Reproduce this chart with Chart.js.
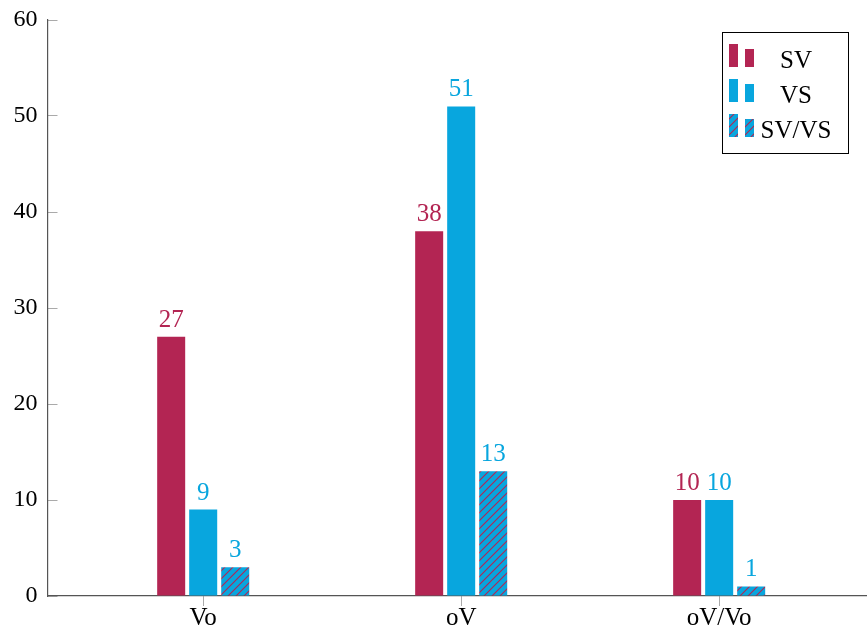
<!DOCTYPE html>
<html>
<head>
<meta charset="utf-8">
<script src="https://cdn.jsdelivr.net/npm/chart.js@4.4.1/dist/chart.umd.min.js"></script>
<style>
html, body { margin: 0; padding: 0; background: #fff; }
#wrap { width: 867px; height: 638px; }
</style>
</head>
<body>
<div id="wrap"><canvas id="barChart"></canvas></div>
<script>
const categories = ['Vo', 'oV', 'oV/Vo']
const seriesNames = ['SV', 'VS', 'SV/VS']
const svValues = [27, 38, 10]
const vsValues = [9, 51, 10]
const bothValues = [3, 13, 1]
const yTicks = [0, 10, 20, 30, 40, 50, 60]

const crimson = '#b32553'
const blue = '#08a6de'
const serif = "'Liberation Serif', serif"

// Hatch: blue fill with crimson north east lines
function makeHatch() {
    const c = document.createElement('canvas')
    c.width = 8
    c.height = 8
    const g = c.getContext('2d')
    g.fillStyle = blue
    g.fillRect(0, 0, 8, 8)
    g.strokeStyle = crimson
    g.lineWidth = 1.1
    g.beginPath()
    g.moveTo(-1, 9); g.lineTo(9, -1)
    g.moveTo(-1, 1); g.lineTo(1, -1)
    g.moveTo(7, 9); g.lineTo(9, 7)
    g.stroke()
    return g.createPattern(c, 'repeat')
}
const hatch = makeHatch()

const toPoints = vals => vals.map((v, i) => ({ x: i, y: v }))

const valueLabels = {
    id: 'valueLabels',
    afterDatasetsDraw(chart) {
        const ctx = chart.ctx
        ctx.save()
        ctx.font = '25px ' + serif
        ctx.textAlign = 'center'
        ctx.textBaseline = 'alphabetic'
        chart.data.datasets.forEach((ds, di) => {
            ctx.fillStyle = ds.labelColor
            chart.getDatasetMeta(di).data.forEach((bar, i) => {
                ctx.fillText(ds.data[i].y, bar.x, bar.y - 10)
            })
        })
        ctx.restore()
    }
}

const boxLegend = {
    id: 'boxLegend',
    afterDraw(chart) {
        const ctx = chart.ctx
        const left = 722.5, top = 32.5, w = 126, h = 121
        ctx.save()
        ctx.fillStyle = '#fff'
        ctx.fillRect(left, top, w, h)
        ctx.strokeStyle = '#000'
        ctx.lineWidth = 1
        ctx.strokeRect(left, top, w, h)
        ctx.font = '25px ' + serif
        ctx.textAlign = 'center'
        ctx.textBaseline = 'alphabetic'
        chart.data.datasets.forEach((ds, i) => {
            const y0 = 44 + i * 35
            ctx.fillStyle = ds.backgroundColor
            ctx.fillRect(729, y0, 9, 23)
            ctx.fillRect(745, y0 + 5, 9, 18)
            ctx.fillStyle = '#000'
            ctx.fillText(ds.label, 796, y0 + 24)
        })
        ctx.restore()
    }
}

const data = {
    datasets: [
        { label: seriesNames[0], data: toPoints(svValues), backgroundColor: crimson, labelColor: crimson },
        { label: seriesNames[1], data: toPoints(vsValues), backgroundColor: blue, labelColor: blue },
        { label: seriesNames[2], data: toPoints(bothValues), backgroundColor: hatch, labelColor: blue },
    ],
}

const config = {
    type: 'bar',
    data: data,
    options: {
        responsive: true,
        maintainAspectRatio: false,
        animation: false,
        layout: { padding: { top: 20, right: 0, left: 0, bottom: 0 } },
        categoryPercentage: 0.3723,
        barPercentage: 0.875,
        plugins: { legend: { display: false }, tooltip: { enabled: false } },
        scales: {
            x: {
                type: 'linear',
                offset: false,
                min: -0.6035,
                max: 2.573,
                afterBuildTicks: s => { s.ticks = categories.map((c, i) => ({ value: i })) },
                afterFit: s => { s.height = 42; s.paddingLeft = 0; s.paddingRight = 0 },
                grid: { offset: false, drawOnChartArea: false, tickLength: 10, color: '#aaa' },
                border: { color: '#555', width: 1.2 },
                ticks: {
                    callback: v => categories[v],
                    color: '#000',
                    padding: -3,
                    font: { family: serif, size: 25 },
                    maxRotation: 0,
                },
            },
            y: {
                min: 0,
                max: 60,
                afterBuildTicks: s => { s.ticks = yTicks.map(v => ({ value: v })) },
                afterFit: s => { s.width = 47.5; s.paddingTop = 0; s.paddingBottom = 0 },
                grid: { drawOnChartArea: false, tickLength: -10, color: '#aaa' },
                border: { color: '#555', width: 1.2 },
                ticks: {
                    color: '#000',
                    padding: 20,
                    font: { family: serif, size: 24 },
                },
            },
        },
    },
    plugins: [valueLabels, boxLegend],
}

const myChart = new Chart(document.getElementById('barChart'), config)
</script>
</body>
</html>
